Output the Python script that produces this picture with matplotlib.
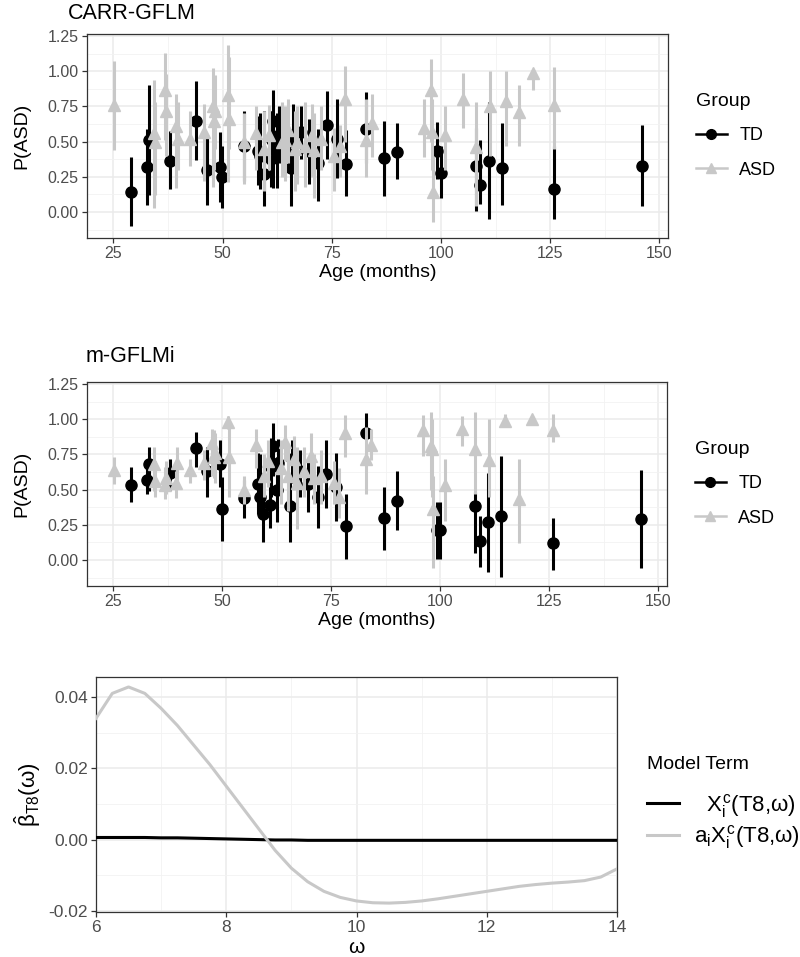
import matplotlib.pyplot as plt
from matplotlib.lines import Line2D
from matplotlib.ticker import MultipleLocator, FormatStrFormatter

plt.rcParams['font.family'] = ['Liberation Sans', 'DejaVu Sans']
plt.rcParams['mathtext.fontset'] = 'custom'
plt.rcParams['mathtext.rm'] = 'Liberation Sans'
plt.rcParams['mathtext.it'] = 'Liberation Sans'
plt.rcParams['mathtext.bf'] = 'Liberation Sans:bold'

# TD subjects: age, CARR-GFLM estimate + interval, m-GFLMi estimate + interval
td_age = [29.0, 32.7, 33.1, 38.0, 43.9, 46.4, 49.4, 49.9, 55.0, 58.2, 58.6, 59.4,
          61.0, 61.2, 61.6, 62.5, 62.8, 65.6, 66.0, 67.9, 69.7, 71.9, 73.8, 76.1,
          78.3, 82.9, 87.0, 90.0, 99.1, 100.0, 107.9, 109.0, 110.9, 113.9, 125.9, 145.9]
td_p1 = [0.14, 0.32, 0.51, 0.365, 0.65, 0.295, 0.32, 0.25, 0.47, 0.43, 0.40, 0.27,
         0.38, 0.51, 0.65, 0.43, 0.55, 0.31, 0.55, 0.57, 0.43, 0.35, 0.62, 0.52,
         0.34, 0.59, 0.385, 0.426, 0.435, 0.28, 0.33, 0.19, 0.365, 0.315, 0.16, 0.33]
td_lo1 = [-0.10, 0.05, 0.12, 0.16, 0.37, 0.05, 0.07, 0.03, 0.22, 0.19, 0.16, 0.04,
          0.18, 0.30, 0.17, 0.17, 0.35, 0.04, 0.35, 0.38, 0.20, 0.08, 0.38, 0.24,
          0.11, 0.35, 0.115, 0.235, 0.235, 0.10, 0.01, 0.06, -0.05, 0.05, -0.05, 0.04]
td_hi1 = [0.39, 0.59, 0.90, 0.575, 0.93, 0.55, 0.57, 0.47, 0.72, 0.68, 0.70, 0.72,
          0.72, 0.72, 0.87, 0.70, 0.75, 0.56, 0.77, 0.75, 0.66, 0.59, 0.86, 0.80,
          0.58, 0.85, 0.65, 0.63, 0.64, 0.47, 0.60, 0.51, 0.78, 0.63, 0.47, 0.62]
td_p2 = [0.53, 0.57, 0.68, 0.62, 0.795, 0.63, 0.68, 0.36, 0.44, 0.54, 0.45, 0.33,
         0.39, 0.66, 0.81, 0.50, 0.69, 0.38, 0.72, 0.63, 0.54, 0.45, 0.61, 0.52,
         0.24, 0.90, 0.295, 0.42, 0.21, 0.21, 0.385, 0.135, 0.27, 0.31, 0.12, 0.29]
td_lo2 = [0.41, 0.47, 0.49, 0.50, 0.66, 0.45, 0.52, 0.135, 0.30, 0.33, 0.30, 0.13,
          0.23, 0.45, 0.60, 0.27, 0.50, 0.13, 0.55, 0.45, 0.34, 0.23, 0.37, 0.28,
          0.005, 0.86, 0.07, 0.21, 0.005, 0.005, 0.05, -0.05, -0.085, -0.12, -0.07, -0.06]
td_hi2 = [0.66, 0.66, 0.80, 0.72, 0.91, 0.80, 0.85, 0.59, 0.57, 0.76, 0.75, 0.62,
          0.57, 0.87, 0.97, 0.73, 0.86, 0.60, 0.85, 0.78, 0.72, 0.67, 0.85, 0.76,
          0.47, 1.045, 0.52, 0.63, 0.41, 0.41, 0.48, 0.31, 0.62, 0.74, 0.30, 0.64]

# ASD subjects
asd_age = [25.1, 34.2, 34.6, 36.8, 37.0, 39.3, 39.7, 42.6, 45.8, 47.7, 48.0, 48.3,
           51.2, 51.4, 55.0, 57.6, 59.5, 60.5, 63.5, 64.3, 65.0, 66.5, 67.0, 68.8,
           70.4, 71.0, 72.5, 75.5, 76.8, 78.0, 82.9, 84.1, 96.0, 97.8, 98.0, 98.2,
           101.0, 105.0, 107.9, 111.1, 114.9, 117.9, 121.0, 125.9]
asd_p1 = [0.76, 0.56, 0.50, 0.87, 0.72, 0.61, 0.52, 0.52, 0.57, 0.75, 0.65, 0.72,
          0.83, 0.66, 0.50, 0.56, 0.45, 0.55, 0.50, 0.51, 0.58, 0.45, 0.50, 0.47,
          0.55, 0.44, 0.52, 0.40, 0.47, 0.80, 0.51, 0.63, 0.60, 0.87, 0.57, 0.145,
          0.55, 0.80, 0.46, 0.75, 0.79, 0.71, 0.99, 0.76]
asd_lo1 = [0.44, 0.03, 0.12, 0.51, 0.40, 0.17, 0.30, 0.33, 0.22, 0.18, 0.30, 0.45,
           0.21, 0.45, 0.20, 0.30, 0.15, 0.30, 0.25, 0.22, 0.35, 0.15, 0.20, 0.18,
           0.25, 0.10, 0.30, 0.15, 0.25, 0.50, 0.25, 0.39, 0.39, 0.50, 0.30, -0.07,
           0.30, 0.60, 0.04, 0.40, 0.47, 0.47, 0.87, 0.45]
asd_hi1 = [1.075, 0.94, 0.78, 1.13, 0.98, 0.84, 0.78, 0.72, 0.77, 1.02, 0.90, 0.97,
           1.19, 1.10, 0.70, 0.75, 0.72, 0.76, 0.78, 0.75, 0.80, 0.72, 0.75, 0.78,
           0.77, 0.70, 0.75, 0.60, 0.62, 1.04, 0.80, 0.84, 0.80, 1.09, 0.80, 0.40,
           0.75, 0.99, 0.78, 1.00, 1.00, 0.90, 1.01, 1.03]
asd_p2 = [0.64, 0.68, 0.56, 0.53, 0.58, 0.55, 0.69, 0.64, 0.69, 0.83, 0.73, 0.76,
          0.98, 0.73, 0.50, 0.82, 0.60, 0.70, 0.65, 0.84, 0.60, 0.72, 0.55, 0.63,
          0.74, 0.58, 0.60, 0.55, 0.45, 0.90, 0.72, 0.82, 0.92, 0.81, 0.79, 0.36,
          0.53, 0.93, 0.79, 0.71, 0.99, 0.43, 1.00, 0.92]
asd_lo2 = [0.54, 0.49, 0.45, 0.43, 0.47, 0.44, 0.55, 0.55, 0.57, 0.60, 0.58, 0.55,
           0.93, 0.45, 0.40, 0.65, 0.45, 0.52, 0.40, 0.70, 0.35, 0.50, 0.22, 0.45,
           0.55, 0.40, 0.40, 0.40, 0.30, 0.73, 0.47, 0.71, 0.74, 0.50, 0.45, -0.06,
           0.28, 0.81, 0.47, 0.45, 0.95, 0.12, 0.995, 0.84]
asd_hi2 = [0.73, 0.80, 0.70, 0.66, 0.70, 0.63, 0.80, 0.72, 0.78, 0.93, 0.92, 0.90,
           1.02, 0.98, 0.60, 0.93, 0.75, 0.85, 0.85, 0.96, 0.80, 0.88, 0.80, 0.80,
           0.90, 0.75, 0.78, 0.70, 0.65, 1.03, 0.945, 0.93, 1.03, 1.05, 1.00, 0.60,
           0.72, 1.02, 1.05, 1.00, 1.04, 0.72, 1.005, 1.04]

# coefficient functions over omega
omega = [6.0, 6.25, 6.5, 6.75, 7.0, 7.25, 7.5, 7.75, 8.0, 8.25, 8.5, 8.75, 9.0,
         9.25, 9.5, 9.75, 10.0, 10.25, 10.5, 10.75, 11.0, 11.25, 11.5, 11.75, 12.0,
         12.25, 12.5, 12.75, 13.0, 13.25, 13.5, 13.75, 14.0]
beta_x = [0.0006, 0.0006, 0.0006, 0.0006, 0.0005, 0.0005, 0.0004, 0.0003, 0.0002,
          0.0001, 0.0, -0.0001, -0.0001, -0.0002, -0.0002, -0.0002, -0.0002, -0.0002,
          -0.0002, -0.0002, -0.0002, -0.0002, -0.0002, -0.0002, -0.0002, -0.0002,
          -0.0002, -0.0002, -0.0002, -0.0002, -0.0002, -0.0002, -0.0002]
beta_ax = [0.0340, 0.0410, 0.0428, 0.0410, 0.0368, 0.0320, 0.0265, 0.0210, 0.0150,
           0.0090, 0.0030, -0.0030, -0.0080, -0.0118, -0.0145, -0.0162, -0.0172,
           -0.0177, -0.0178, -0.0176, -0.0172, -0.0166, -0.0159, -0.0152, -0.0145,
           -0.0138, -0.0131, -0.0126, -0.0122, -0.0119, -0.0115, -0.0105, -0.0082]

GREY = '#C8C8C8'
TICK_C = '#4D4D4D'
EDGE_C = '#333333'


def style_axes(ax, tick_size):
    ax.set_facecolor('white')
    ax.grid(True, which='major', color='#EBEBEB', lw=1.1, zorder=0)
    ax.grid(True, which='minor', color='#F2F2F2', lw=0.6, zorder=0)
    ax.set_axisbelow(True)
    for s in ax.spines.values():
        s.set_color(EDGE_C)
        s.set_linewidth(0.9)
    ax.tick_params(which='major', length=3.5, width=0.9, color=EDGE_C,
                   labelcolor=TICK_C, labelsize=tick_size, pad=2.5)
    ax.tick_params(which='minor', length=0)


def pointrange_panel(ax, p_td, lo_td, hi_td, p_asd, lo_asd, hi_asd):
    ax.vlines(td_age, lo_td, hi_td, color='black', lw=2.2, zorder=3)
    ax.plot(td_age, p_td, 'o', color='black', ms=8, zorder=3)
    ax.vlines(asd_age, lo_asd, hi_asd, color=GREY, lw=2.2, zorder=4)
    ax.plot(asd_age, p_asd, '^', color=GREY, ms=8.5, zorder=4)
    ax.set_xlim(18.95, 151.95)
    ax.set_ylim(-0.185, 1.265)
    ax.xaxis.set_major_locator(MultipleLocator(25))
    ax.xaxis.set_minor_locator(MultipleLocator(12.5))
    ax.yaxis.set_major_locator(MultipleLocator(0.25))
    ax.yaxis.set_minor_locator(MultipleLocator(0.125))
    ax.yaxis.set_major_formatter(FormatStrFormatter('%.2f'))
    style_axes(ax, 11.5)
    ax.set_xlabel('Age (months)', fontsize=14, labelpad=2)
    ax.set_ylabel('P(ASD)', fontsize=14, labelpad=12)
    handles = [Line2D([], [], color='black', marker='o', ms=7, lw=1.8),
               Line2D([], [], color=GREY, marker='^', ms=7.5, lw=1.8)]
    leg = ax.legend(handles, ['TD', 'ASD'], title='Group', loc='center left',
                    bbox_to_anchor=(1.02, 0.5), frameon=False, fontsize=13,
                    title_fontsize=14, handlelength=1.7, handletextpad=0.7,
                    labelspacing=0.95)
    leg._legend_box.align = 'left'


fig = plt.figure(figsize=(8, 9.57), dpi=100)

ax1 = fig.add_axes([0.10875, 0.7513, 0.72625, 0.2132])
pointrange_panel(ax1, td_p1, td_lo1, td_hi1, asd_p1, asd_lo1, asd_hi1)
fig.text(0.085, 0.986, 'CARR-GFLM', fontsize=15.5, ha='left', va='center')

ax2 = fig.add_axes([0.10875, 0.3877, 0.725, 0.2132])
pointrange_panel(ax2, td_p2, td_lo2, td_hi2, asd_p2, asd_lo2, asd_hi2)
fig.text(0.1075, 0.627, 'm-GFLMi', fontsize=15.5, ha='left', va='center')

ax3 = fig.add_axes([0.12, 0.047, 0.65125, 0.2456])
ax3.plot(omega, beta_x, color='black', lw=2.2, zorder=3,
         label=r'  $X_i^c$(T8,ω)')
ax3.plot(omega, beta_ax, color=GREY, lw=2.2, zorder=3,
         label=r'$a_iX_i^c$(T8,ω)')
ax3.set_xlim(6, 14)
ax3.set_ylim(-0.0203, 0.0456)
ax3.xaxis.set_major_locator(MultipleLocator(2))
ax3.xaxis.set_minor_locator(MultipleLocator(1))
ax3.yaxis.set_major_locator(MultipleLocator(0.02))
ax3.yaxis.set_minor_locator(MultipleLocator(0.01))
ax3.yaxis.set_major_formatter(FormatStrFormatter('%.2f'))
style_axes(ax3, 12.5)
ax3.set_xlabel('ω', fontsize=15, labelpad=2)
ax3.set_ylabel(r'$\hat{\beta}_{\mathrm{T8}}(\omega)$', fontsize=16, labelpad=4)
leg3 = ax3.legend(title='Model Term', loc='center left', bbox_to_anchor=(1.02, 0.461),
                  frameon=False, fontsize=16, title_fontsize=14, handlelength=1.4,
                  handletextpad=0.7, labelspacing=0.15)
leg3._legend_box.align = 'left'
leg3._legend_box.sep = 13.5

fig.savefig('out.png', dpi=100, facecolor='white')
